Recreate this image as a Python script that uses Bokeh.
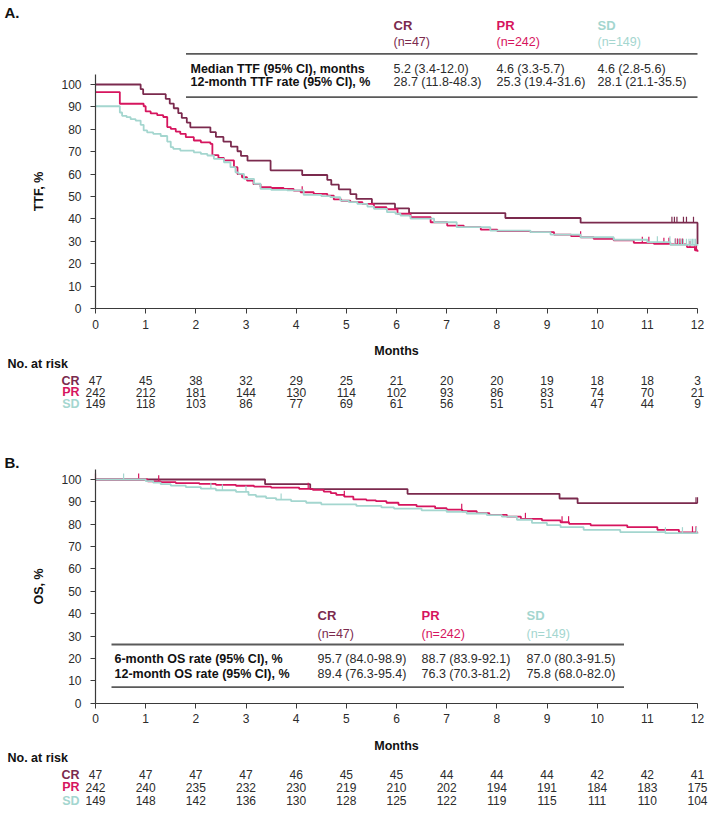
import numpy as np
from bokeh.plotting import figure
from bokeh.models import LinearAxis, FixedTicker, Range1d
from bokeh.layouts import column
from bokeh.embed import file_html
from bokeh.resources import INLINE
from bokeh.core.properties import value

# ---------------- data ----------------
months = list(range(13))
groups = ["CR", "PR", "SD"]
group_n = ["(n=47)", "(n=242)", "(n=149)"]

# Panel A: time to treatment failure (TTF)
ttf_cr_t = [0, 0.90, 0.95, 1.40, 1.48, 1.56, 1.65, 1.72, 1.82, 1.89, 2.29, 2.40, 2.55, 2.70, 2.83, 2.90, 3.03,
            3.49, 4.12, 4.62, 4.70, 4.85, 5.08, 5.20, 5.51, 5.97, 6.25, 8.17, 9.67, 12.0]
ttf_cr_s = [100, 97.9, 95.7, 93.6, 91.5, 89.4, 87.2, 85.1, 83.0, 80.9, 78.7, 76.6, 74.5, 72.3, 70.2, 68.1, 66.0,
            61.7, 59.6, 57.4, 55.3, 53.2, 51.1, 48.9, 46.8, 44.7, 42.6, 40.4, 38.3, 28.7]
ttf_cr_cens = [11.49, 11.54, 11.59, 11.72, 11.78, 11.92]

ttf_pr_t = [0, 0.485, 0.96, 1.00, 1.10, 1.23, 1.35, 1.43, 1.50, 1.60, 1.69, 1.80, 1.96, 2.10, 2.29, 2.33, 2.45,
            2.56, 2.76, 2.83, 2.92, 3.02, 3.15, 3.29, 3.50, 3.75, 3.95, 4.09, 4.35, 4.62, 4.75, 4.90, 5.08, 5.32,
            5.55, 5.80, 6.02, 6.28, 6.68, 7.01, 7.34, 7.68, 8.01, 8.67, 9.14, 9.48, 9.67, 9.93, 10.33, 10.73,
            11.13, 11.46, 11.79, 11.95, 12.0]
ttf_pr_s = [96.6, 91.4, 90.3, 88.0, 87.1, 86.3, 85.5, 81.0, 80.2, 79.0, 78.0, 76.5, 75.0, 74.2, 73.5, 68.5, 67.2,
            66.1, 63.1, 60.0, 58.6, 57.1, 55.5, 54.2, 53.8, 53.4, 52.6, 51.9, 51.2, 50.4, 48.7, 48.1, 47.5, 46.7,
            45.2, 44.3, 42.3, 40.8, 38.5, 37.0, 36.3, 35.2, 34.5, 34.1, 33.0, 32.3, 31.8, 31.1, 30.4, 29.3,
            28.9, 28.6, 27.4, 26.0, 25.3]
ttf_pr_cens = [4.12, 9.67, 10.90, 11.03, 11.33, 11.43, 11.56, 11.60, 11.65, 11.70, 11.85, 11.95, 11.98]

ttf_sd_t = [0, 0.485, 0.53, 0.62, 0.70, 0.80, 0.90, 0.96, 1.03, 1.15, 1.30, 1.43, 1.50, 1.55, 1.69, 1.96, 2.10,
            2.23, 2.36, 2.56, 2.69, 2.79, 2.85, 2.96, 3.16, 3.29, 3.50, 3.82, 4.15, 4.50, 4.68, 4.88, 5.05, 5.22,
            5.42, 5.55, 5.81, 5.98, 6.08, 6.28, 6.75, 7.20, 7.87, 8.67, 9.07, 9.67, 10.33, 11.00, 11.46, 12.0]
ttf_sd_s = [90.3, 87.5, 86.0, 85.4, 84.5, 83.9, 82.0, 79.5, 78.6, 78.0, 77.0, 74.5, 72.0, 71.3, 70.5, 69.7, 69.0,
            68.3, 66.8, 65.3, 63.1, 60.8, 60.1, 57.9, 55.7, 53.4, 53.0, 52.7, 50.7, 50.2, 49.7, 48.2, 47.5, 46.7,
            45.5, 44.5, 43.0, 42.3, 41.5, 40.1, 38.5, 36.3, 34.8, 34.1, 33.0, 31.8, 30.7, 29.6, 28.4, 28.1]
ttf_sd_cens = [11.20, 11.45, 11.55, 11.62, 11.68, 11.72, 11.78, 11.83, 11.87, 11.90, 11.93, 11.96]

ttf_median = ["5.2 (3.4-12.0)", "4.6 (3.3-5.7)", "4.6 (2.8-5.6)"]
ttf_rate12 = ["28.7 (11.8-48.3)", "25.3 (19.4-31.6)", "28.1 (21.1-35.5)"]
ttf_risk_cr = [47, 45, 38, 32, 29, 25, 21, 20, 20, 19, 18, 18, 3]
ttf_risk_pr = [242, 212, 181, 144, 130, 114, 102, 93, 86, 83, 74, 70, 21]
ttf_risk_sd = [149, 118, 103, 86, 77, 69, 61, 56, 51, 51, 47, 44, 9]

# Panel B: overall survival (OS)
os_cr_t = [0, 3.38, 4.28, 6.22, 9.25, 9.61, 12.0]
os_cr_s = [100, 97.9, 95.7, 93.6, 91.5, 89.4, 89.4]
os_cr_cens = [11.97, 12.0]

os_pr_t = [0, 1.04, 1.30, 1.60, 2.07, 2.40, 2.80, 3.16, 3.50, 4.06, 4.33, 4.55, 4.69, 4.80, 4.96, 5.14, 5.40,
           5.59, 5.80, 6.04, 6.40, 6.77, 7.00, 7.31, 7.60, 7.85, 8.20, 8.48, 8.90, 9.27, 9.44, 9.87, 10.60,
           11.20, 11.63, 12.0]
os_pr_s = [100, 99.2, 98.8, 98.4, 98.0, 97.6, 97.2, 96.8, 96.4, 95.8, 95.4, 94.6, 93.9, 93.1, 92.3, 91.1, 90.7,
           90.3, 89.6, 88.7, 88.0, 87.2, 86.5, 85.8, 85.0, 84.2, 83.4, 82.4, 81.7, 80.9, 80.2, 79.5, 78.7,
           77.5, 76.4, 76.3]
os_pr_cens = [0.0, 0.86, 1.26, 4.24, 4.96, 7.30, 8.57, 9.30, 9.43, 11.90, 11.97]

os_sd_t = [0, 1.00, 1.15, 1.30, 1.50, 1.80, 2.10, 2.40, 2.80, 3.05, 3.20, 3.40, 3.60, 3.90, 4.20, 4.50, 5.20,
           5.70, 5.95, 6.50, 7.00, 7.40, 7.80, 8.10, 8.40, 8.70, 9.00, 9.27, 9.73, 10.46, 11.36, 12.0]
os_sd_s = [100, 99.3, 98.6, 97.9, 97.3, 96.6, 95.9, 95.2, 94.5, 93.1, 92.4, 91.7, 91.0, 90.3, 89.6, 88.9, 88.2,
           87.5, 87.0, 86.2, 85.5, 84.8, 84.1, 83.4, 82.0, 80.6, 79.6, 78.7, 77.5, 76.5, 76.0, 75.8]
os_sd_cens = [0.56, 2.30, 2.53, 3.00, 3.70, 11.36, 11.70, 11.98]

os_rate6 = ["95.7 (84.0-98.9)", "88.7 (83.9-92.1)", "87.0 (80.3-91.5)"]
os_rate12 = ["89.4 (76.3-95.4)", "76.3 (70.3-81.2)", "75.8 (68.0-82.0)"]
os_risk_cr = [47, 47, 47, 47, 46, 45, 45, 44, 44, 44, 42, 42, 41]
os_risk_pr = [242, 240, 235, 232, 230, 219, 210, 202, 194, 191, 184, 183, 175]
os_risk_sd = [149, 148, 142, 136, 130, 128, 125, 122, 119, 115, 111, 110, 104]

# ---------------- style ----------------
FONT = "Liberation Sans"
COLORS = ["#7b2a4e", "#d6155e", "#a4d6cf"]
TXT = "#2b2b2b"
W = 709
X0PX, PX_PER_MONTH = 95.0, 50.167


def xd(px):
    return (px - X0PX) / PX_PER_MONTH


def step_value(t_arr, s_arr, t):
    idx = np.searchsorted(np.asarray(t_arr), t, side="right") - 1
    return float(np.asarray(s_arr)[max(idx, 0)])


def make_panel(height, y100_px, y0_px):
    ppu = (y0_px - y100_px) / 100.0
    y_top = 100 + y100_px / ppu
    y_bot = -(height - y0_px) / ppu
    p = figure(width=W, height=height, x_range=Range1d(xd(0), xd(W)), y_range=Range1d(y_bot, y_top),
               output_backend="svg", toolbar_location=None, x_axis_location=None, y_axis_location=None,
               min_border=0, outline_line_color=None, background_fill_color="white",
               border_fill_color="white")
    p.xgrid.grid_line_color = None
    p.ygrid.grid_line_color = None
    p.xgrid.visible = False
    p.ygrid.visible = False

    def yd(py):
        return 100 - (py - y100_px) / ppu
    return p, yd


def style_axes(p, ylabel):
    xa = LinearAxis(fixed_location=0, bounds=(0, 12), ticker=FixedTicker(ticks=months), axis_label="Months")
    ya = LinearAxis(fixed_location=0, bounds=(0, 104.5), ticker=FixedTicker(ticks=list(range(0, 101, 10))),
                    axis_label=ylabel)
    for ax in (xa, ya):
        ax.axis_line_color = "#3a3a3a"
        ax.axis_line_width = 1.2
        ax.major_tick_line_color = "#3a3a3a"
        ax.major_tick_in = 0
        ax.major_tick_out = 5
        ax.minor_tick_line_color = None
        ax.major_label_text_font = FONT
        ax.major_label_text_font_size = "12px"
        ax.major_label_text_color = TXT
        ax.axis_label_text_font = FONT
        ax.axis_label_text_font_size = "12.5px"
        ax.axis_label_text_font_style = "bold"
        ax.axis_label_text_color = "#111111"
    xa.major_label_standoff = 6
    xa.axis_label_standoff = 12
    ya.major_label_standoff = 9
    ya.axis_label_standoff = 12
    p.add_layout(xa, "below")
    p.add_layout(ya, "left")


def draw_curves(p, curves, cens_h):
    for (t, s, cens), col in zip(curves, COLORS):
        p.step(t, s, mode="after", line_color=col, line_width=1.8)
        cy = [step_value(t, s, c) for c in cens]
        p.segment(x0=cens, y0=cy, x1=cens, y1=[v + cens_h for v in cy], line_color=col, line_width=1.2)


def txt(p, x, y, text, size="12.5px", color=TXT, bold=False, align="left"):
    p.text(x=x, y=y, text=text, text_font=value(FONT), text_font_size=size, text_color=color,
           text_font_style="bold" if bold else "normal", text_align=align, text_baseline="middle")


def at_risk(p, yd, rows_py, head_py, risks):
    txt(p, [xd(7)], [yd(head_py)], ["No. at risk"], size="12.5px", color="#111111", bold=True)
    for g, col, r, py in zip(groups, COLORS, risks, rows_py):
        txt(p, [xd(79)], [yd(py)], [g], size="12.5px", color=col, bold=True, align="right")
        txt(p, months, [yd(py)] * len(months), [str(v) for v in r], size="12px", align="center")


# ---------------- panel A ----------------
pA, ydA = make_panel(430, 84.0, 308.0)
draw_curves(pA, [(ttf_cr_t, ttf_cr_s, ttf_cr_cens), (ttf_pr_t, ttf_pr_s, ttf_pr_cens),
                 (ttf_sd_t, ttf_sd_s, ttf_sd_cens)], 2.7)
style_axes(pA, "TTF, %")
txt(pA, [xd(4)], [ydA(12)], ["A."], size="15px", color="#111111", bold=True)
col_px = [393, 496, 597]
for i in range(3):
    txt(pA, [xd(col_px[i])], [ydA(25)], [groups[i]], size="13px", color=COLORS[i], bold=True)
    txt(pA, [xd(col_px[i])], [ydA(41.7)], [group_n[i]], color=COLORS[i])
pA.segment(x0=[xd(185.5)] * 2, x1=[xd(697)] * 2, y0=[ydA(53.3), ydA(96.7)], y1=[ydA(53.3), ydA(96.7)],
           line_color="#5a5a5a", line_width=1.8)
txt(pA, [xd(190)] * 2, [ydA(68.3), ydA(81.7)],
    ["Median TTF (95% CI), months", "12-month TTF rate (95% CI), %"], color="#111111", bold=True)
txt(pA, [xd(c) for c in col_px], [ydA(68.3)] * 3, ttf_median)
txt(pA, [xd(c) for c in col_px], [ydA(81.7)] * 3, ttf_rate12)
at_risk(pA, ydA, [380, 391.7, 403], 363.3, [ttf_risk_cr, ttf_risk_pr, ttf_risk_sd])

# ---------------- panel B ----------------
OFF = 430.0
pB, ydB_local = make_panel(386, 479.0 - OFF, 702.7 - OFF)


def ydB(py_global):
    return ydB_local(py_global - OFF)


draw_curves(pB, [(os_cr_t, os_cr_s, os_cr_cens), (os_pr_t, os_pr_s, os_pr_cens),
                 (os_sd_t, os_sd_s, os_sd_cens)], 2.7)
style_axes(pB, "OS, %")
txt(pB, [xd(4)], [ydB(461.7)], ["B."], size="15px", color="#111111", bold=True)
colB_px = [317, 421, 526]
for i in range(3):
    txt(pB, [xd(colB_px[i])], [ydB(615)], [groups[i]], size="13px", color=COLORS[i], bold=True)
    txt(pB, [xd(colB_px[i])], [ydB(633.3)], [group_n[i]], color=COLORS[i])
pB.segment(x0=[xd(111)] * 2, x1=[xd(623.5)] * 2, y0=[ydB(644), ydB(686.7)], y1=[ydB(644), ydB(686.7)],
           line_color="#5a5a5a", line_width=1.8)
txt(pB, [xd(114)] * 2, [ydB(658), ydB(673.3)],
    ["6-month OS rate (95% CI), %", "12-month OS rate (95% CI), %"], color="#111111", bold=True)
txt(pB, [xd(c) for c in colB_px], [ydB(658)] * 3, os_rate6)
txt(pB, [xd(c) for c in colB_px], [ydB(673.3)] * 3, os_rate12)
at_risk(pB, ydB, [774, 786.7, 800], 757.3, [os_risk_cr, os_risk_pr, os_risk_sd])

layout = column(pA, pB, spacing=0)
open("out.html", "w").write(file_html(layout, INLINE))
